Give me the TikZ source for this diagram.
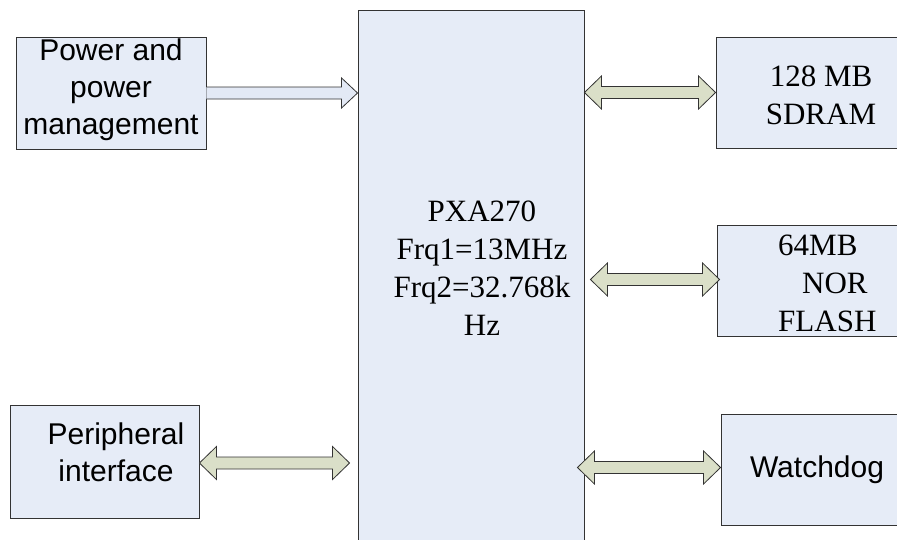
\documentclass[tikz,border=0pt]{standalone}
\usepackage{fontspec}
\setmainfont{Liberation Serif}
\newfontfamily\arialf{Liberation Sans}
\usetikzlibrary{calc}
\definecolor{boxfill}{HTML}{E6ECF7}
\definecolor{arrfill}{HTML}{DADFC8}
\definecolor{pwfill}{HTML}{E3E9F5}
\definecolor{edgec}{HTML}{333333}
\tikzset{
 blk/.style={draw=edgec, fill=boxfill, line width=0.9pt, inner sep=0pt},
 serift/.style={font=\fontsize{31}{38}\selectfont, align=center, inner sep=0pt},
 sanst/.style={font=\arialf\fontsize{30}{37}\selectfont, align=center, inner sep=0pt},
 dbl/.style={draw=edgec, fill=arrfill, line width=0.8pt, line join=miter},
 sgl/.style={draw=edgec, fill=pwfill, line width=0.8pt, line join=miter},
}
\newcommand\dblarrow[2]{%
 \path[dbl] (#1) -- ($(#1)+(17,-16.5)$) -- ($(#1)+(17,-6)$) -- ($(#2)+(-17,-6)$) -- ($(#2)+(-17,-16.5)$) -- (#2) -- ($(#2)+(-17,16.5)$) -- ($(#2)+(-17,6)$) -- ($(#1)+(17,6)$) -- ($(#1)+(17,16.5)$) -- cycle;}
\begin{document}
\begin{tikzpicture}[x=1pt,y=-1pt]
\useasboundingbox (0,0) rectangle (897,539);
% boxes
\node[blk, minimum width=190pt, minimum height=112pt] (pw) at (111,93) {};
\node[blk, minimum width=226pt, minimum height=560pt] (cpu) at (471,290) {};
\node[blk, minimum width=210pt, minimum height=111pt] (sdram) at (821,92.5) {};
\node[blk, minimum width=210pt, minimum height=111pt] (nor) at (822,280.5) {};
\node[blk, minimum width=189pt, minimum height=113pt] (periph) at (104.5,461.5) {};
\node[blk, minimum width=192pt, minimum height=111pt] (wdog) at (817,469.5) {};
% texts
\node[sanst] (pwt) at (111,90) {Power and\\power\\management};
\node[serift] (cput) at (482,268) {PXA270\\Frq1=13MHz\\Frq2=32.768k\\Hz};
\node[serift] (sdramt) at (821,95) {128 MB\\SDRAM};
\node[serift, align=left, anchor=west] (nort) at (778,283) {64MB\\\hspace*{24pt}NOR\\FLASH};
\node[sanst] (peripht) at (116,452) {Peripheral\\interface};
\node[sanst] (wdogt) at (817,470) {Watchdog};
% connectors
\coordinate (pwB) at (pw.east -| cpu.west);
\path[sgl] ($(pw.east)+(0,-6)$) -- ($(pwB)+(-16,-6)$) -- ($(pwB)+(-16,-15)$) -- (pwB) -- ($(pwB)+(-16,15)$) -- ($(pwB)+(-16,6)$) -- ($(pw.east)+(0,6)$);
\coordinate (sdA) at (cpu.east |- sdram.west);
\dblarrow{sdA}{sdram.west}
\coordinate (norA) at ($(cpu.east |- nor.west)+(6,-1)$);
\coordinate (norB) at ($(nor.west)+(3,-1)$);
\dblarrow{norA}{norB}
\coordinate (wdA) at ($(cpu.east |- wdog.west)+(-7,-2)$);
\coordinate (wdB) at ($(wdog.west)+(0,-2)$);
\dblarrow{wdA}{wdB}
\coordinate (peB) at ($(periph.east -| cpu.west)+(-8,1.5)$);
\coordinate (peA) at ($(periph.east)+(0,1.5)$);
\dblarrow{peA}{peB}
\end{tikzpicture}
\end{document}
